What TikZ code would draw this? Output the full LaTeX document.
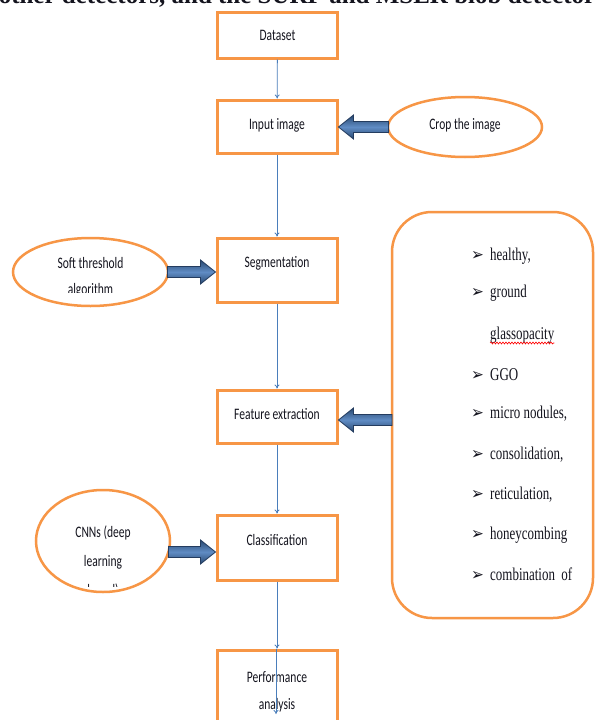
\documentclass[tikz,border=0pt]{standalone}
\usepackage{fontspec}
\usetikzlibrary{arrows.meta,calc,shapes.geometric,decorations.pathmorphing}
\newfontfamily\boxfont[FakeStretch=0.72]{Carlito}
\newfontfamily\listfont[FakeStretch=0.72]{Liberation Serif}
\newfontfamily\pagefont{Liberation Serif}
\newfontfamily\dingfont[FakeStretch=0.9]{DejaVu Sans}
\definecolor{boxorange}{RGB}{247,150,70}
\definecolor{linkblue}{RGB}{74,126,187}
\definecolor{arrowdark}{RGB}{40,72,112}
\definecolor{arrowlight}{RGB}{96,140,196}
\definecolor{arrowedge}{RGB}{36,60,95}
\definecolor{textdark}{RGB}{20,20,30}
\tikzset{
  stepbox/.style={draw=boxorange, line width=3pt, fill=white, minimum width=120pt, inner sep=0pt},
  oval/.style={ellipse, draw=boxorange, line width=2.5pt, fill=white, inner sep=0pt},
  boxtext/.style={font=\boxfont\fontsize{16}{28}\selectfont, text=textdark, align=center, inner sep=0pt},
  listtext/.style={font=\listfont\fontsize{18}{20}\selectfont, text=textdark, anchor=base west, inner sep=0pt},
  bulletmark/.style={font=\dingfont\fontsize{17}{19}\selectfont, text=textdark, anchor=base west, inner sep=0pt},
  link/.style={draw=linkblue, line width=0.8pt, -{To[length=4pt,width=5pt]}},
  blockarrow/.style={draw=arrowedge, line width=0.8pt, top color=arrowdark, bottom color=arrowdark, middle color=arrowlight},
}
\newcommand\blockarrowdraw[2]{%
  \path[blockarrow] let \p1=(#1), \p2=(#2), \n1={sign(\x2-\x1)} in
    (\x1,\y1+5.5pt) -- ({\x2-\n1*15pt},\y1+5.5pt) -- ({\x2-\n1*15pt},\y1+12pt)
    -- (\x2,\y1) -- ({\x2-\n1*15pt},\y1-12pt) -- ({\x2-\n1*15pt},\y1-5.5pt)
    -- (\x1,\y1-5.5pt) -- cycle;}
\begin{document}
\begin{tikzpicture}[x=1pt,y=-1pt]
\useasboundingbox (0,0) rectangle (595,720);
\fill[white] (0,0) rectangle (595,720);

% clipped line of the page text above the figure
\node[font=\pagefont\bfseries\fontsize{25}{27}\selectfont, text=textdark, anchor=base, inner sep=0pt] (toptext) at (297,3) {other detectors, and the SURF and MSER blob detector};

% main column
\node[stepbox, minimum height=46pt] (data) at (277.5,35) {};
\node[boxtext] (dataT) at (277.5,35) {Dataset};
\node[stepbox, minimum height=53pt] (inp) at (277,126.5) {};
\node[boxtext] (inpT) at (277,125) {Input image};
\node[stepbox, minimum height=64pt] (seg) at (277,270) {};
\node[boxtext] (segT) at (277,263) {Segmentation};
\node[stepbox, minimum height=53pt] (feat) at (277,416.5) {};
\node[boxtext] (featT) at (277,414) {Feature extraction};
\node[stepbox, minimum height=65pt] (cls) at (277,547.5) {};
\node[boxtext] (clsT) at (277,540) {Classification};
\node[stepbox, minimum height=80pt] (perf) at (277,690) {};
\node[boxtext] (perfA) at (277,677) {Performance};
\node[boxtext] (perfB) at (277,705) {analysis};

% side ellipses
\node[oval, minimum width=154pt, minimum height=60pt] (crop) at (465,127) {};
\node[boxtext] (cropT) at (465,125) {Crop the image};
\node[oval, minimum width=155pt, minimum height=68pt] (soft) at (90.5,272) {};
\begin{scope}
  \clip (0,0) rectangle (595,292.5);
  \node[boxtext] (softA) at (90.5,263) {Soft threshold};
  \node[boxtext] (softB) at (90.5,290) {algorithm};
\end{scope}
\node[oval, minimum width=134pt, minimum height=102pt] (cnn) at (103,541) {};
\begin{scope}
  \clip (0,0) rectangle (595,586);
  \node[boxtext] (cnnA) at (103,533) {CNNs (deep};
  \node[boxtext] (cnnB) at (103,562) {learning};
  \node[boxtext] (cnnC) at (103,591) {based)};
\end{scope}

% list box
\node[draw=boxorange, line width=2.5pt, rounded corners=40pt, minimum width=201pt, minimum height=406pt, fill=white] (list) at (492.5,415) {};
\foreach \yy/\nm in {260/b1, 297/b2, 380/b3, 418/b4, 459/b5, 499/b6, 539/b7, 580/b8}{
  \node[bulletmark] (\nm) at (471,\yy) {➢};
}
\node[listtext] (l1) at (490,260) {healthy,};
\node[listtext] (l2) at (490,297) {ground};
\node[listtext] (l2b) at (490,339) {glassopacity};
\node[listtext] (l3) at (490,380) {GGO};
\node[listtext] (l4) at (490,418) {micro nodules,};
\node[listtext] (l5) at (490,459) {consolidation,};
\node[listtext] (l6) at (490,499) {reticulation,};
\node[listtext] (l7) at (490,539) {honeycombing};
\node[listtext] (l8) at (490,580) {combination\ \ of};
\draw[red, line width=0.6pt, decorate, decoration={snake, amplitude=1pt, segment length=3pt}]
  ($(l2b.base west)+(0,4)$) -- ($(l2b.base east)+(0,4)$);

% connectors
\draw[link] (data) -- (inp);
\draw[link] (inp) -- (seg);
\draw[link] (seg) -- (feat);
\draw[link] (feat) -- (cls);
\draw[link] (cls) -- (perf.north);
\coordinate (perfEnd) at (276,714);
\draw[link] (perf.north -| perfEnd) -- (perfEnd);

% block arrows
\coordinate (arrCrop) at (388.5,127);
\blockarrowdraw{arrCrop}{inp.east}
\coordinate (arrSoft) at (167.5,272);
\blockarrowdraw{arrSoft}{seg.west}
\coordinate (arrList) at (392,420);
\blockarrowdraw{arrList}{feat.east}
\coordinate (arrCnn) at (168.5,552);
\blockarrowdraw{arrCnn}{cls.west}
\end{tikzpicture}
\end{document}
